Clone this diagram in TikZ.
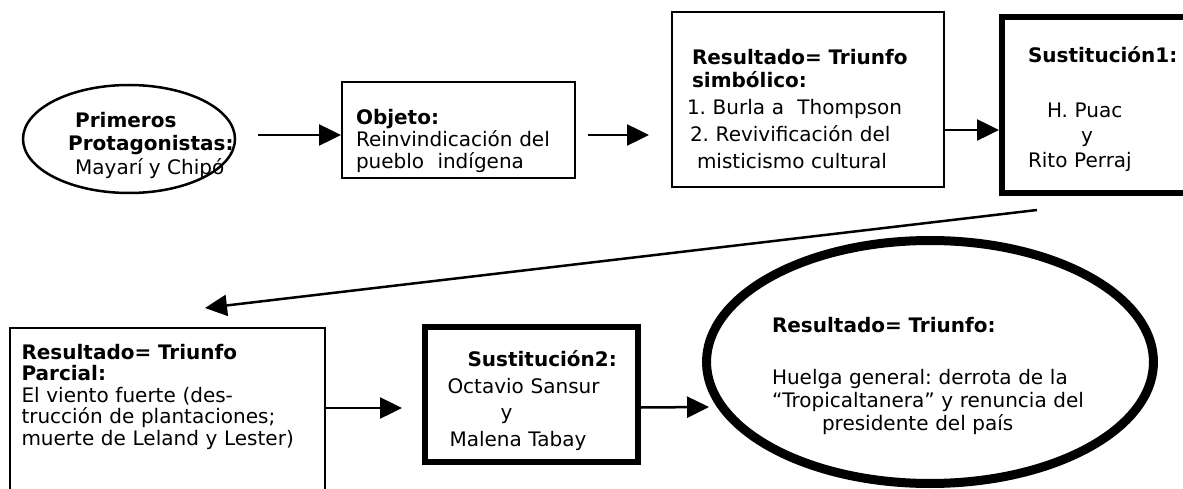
\documentclass[tikz,border=0pt]{standalone}
\usepackage{fontspec}
\setmainfont{DejaVu Sans}
\frenchspacing
\usetikzlibrary{arrows.meta,positioning,shapes.geometric}

\begin{document}
\begin{tikzpicture}[x=1pt,y=-1pt,
		txt/.style={font=\fontsize{20}{22}\selectfont, inner sep=0pt, align=left},
		thinbox/.style={draw, line width=2pt, txt},
		thickbox/.style={draw, line width=6pt, txt},
		arr/.style={-{Triangle[length=22pt,width=21pt]}, line width=2.5pt}]
		\useasboundingbox (0,0) rectangle (1183,489);
		\clip (0,0) rectangle (1183,489);
		% first row
		\node[draw, ellipse, line width=2.5pt, minimum width=212pt, minimum height=108pt] (prim) at (129,139) {};
		\node[txt, anchor=west, font=\fontsize{20}{23.5}\selectfont] (primtxt) at (68,145) {\hspace*{7pt}\textbf{Primeros}\\\textbf{Protagonistas:}\\\hspace*{7pt}Mayarí y Chipó};
		\node[thinbox, minimum width=233pt, minimum height=96pt, text width=205pt] (obj) at (458.5,130) {\rule{0pt}{37pt}\textbf{Objeto:}\\Reinvindicación del\\pueblo\ \ indígena};
		\node[thinbox, minimum width=272pt, minimum height=175pt, text width=242pt, font=\fontsize{20}{27}\selectfont] (res1) at (808,99.5) {\rule{0pt}{34pt}\hspace*{5pt}\textbf{Resultado= Triunfo}\\[-4pt]\hspace*{5pt}\textbf{simbólico:}\\1. Burla a\ \ Thompson\\\hspace*{3pt}2. Revivificación del\\\hspace*{10pt}misticismo cultural};
		\node[thickbox, minimum width=208pt, minimum height=176pt, text width=156pt, font=\fontsize{20}{25}\selectfont] (sust1) at (1106,105) {\rule{0pt}{24pt}\textbf{Sustitución1:}\\[30pt]\hspace*{19pt}H. Puac\\\hspace*{53pt}y\\Rito Perraj};
		\draw[arr] ([shift={(22,-4)}]prim.east) -- ([shift={(0,5)}]obj.west);
		\draw[arr] ([shift={(12,5)}]obj.east) -- ([shift={(-22,35.5)}]res1.west);
		\draw[arr] ([shift={(0,30.5)}]res1.east) -- ([shift={(0,25)}]sust1.west);
		% second row
		\node[thinbox, minimum width=315pt, minimum height=177pt, text width=292pt, font=\fontsize{20}{21.5}\selectfont] (parc) at (167.5,416.5) {\textbf{Resultado= Triunfo}\\\textbf{Parcial:}\\El viento fuerte (des-\\trucción de plantaciones;\\muerte de Leland y Lester)\rule[-44pt]{0pt}{1pt}};
		\node[thickbox, minimum width=213pt, minimum height=135pt, text width=176pt, font=\fontsize{20}{26.5}\selectfont] (sust2) at (531.5,394.5) {\rule{0pt}{28pt}\hspace*{24pt}\textbf{Sustitución2:}\\\hspace*{4pt}Octavio Sansur\\\hspace*{57pt}y\\\hspace*{6pt}Malena Tabay};
		\node[draw, ellipse, line width=9pt, minimum width=444pt, minimum height=243pt, txt, text width=316pt, font=\fontsize{20}{23}\selectfont] (fin) at (930,362) {\rule{0pt}{43pt}\textbf{Resultado= Triunfo:}\\[29pt]Huelga general: derrota de la\\“Tropicaltanera” y renuncia del\\\hspace*{50pt}presidente del país};
		\coordinate (turn) at (1037,210);
		\coordinate (land) at (205,308);
		\draw[arr] (turn) -- (land);
		\draw[arr] ([shift={(0,-8.5)}]parc.east) -- ([shift={(-20,13.5)}]sust2.west);
		\draw[arr] ([shift={(0,13)}]sust2.east) -- ([shift={(7,45)}]fin.west);
\end{tikzpicture}
\end{document}
